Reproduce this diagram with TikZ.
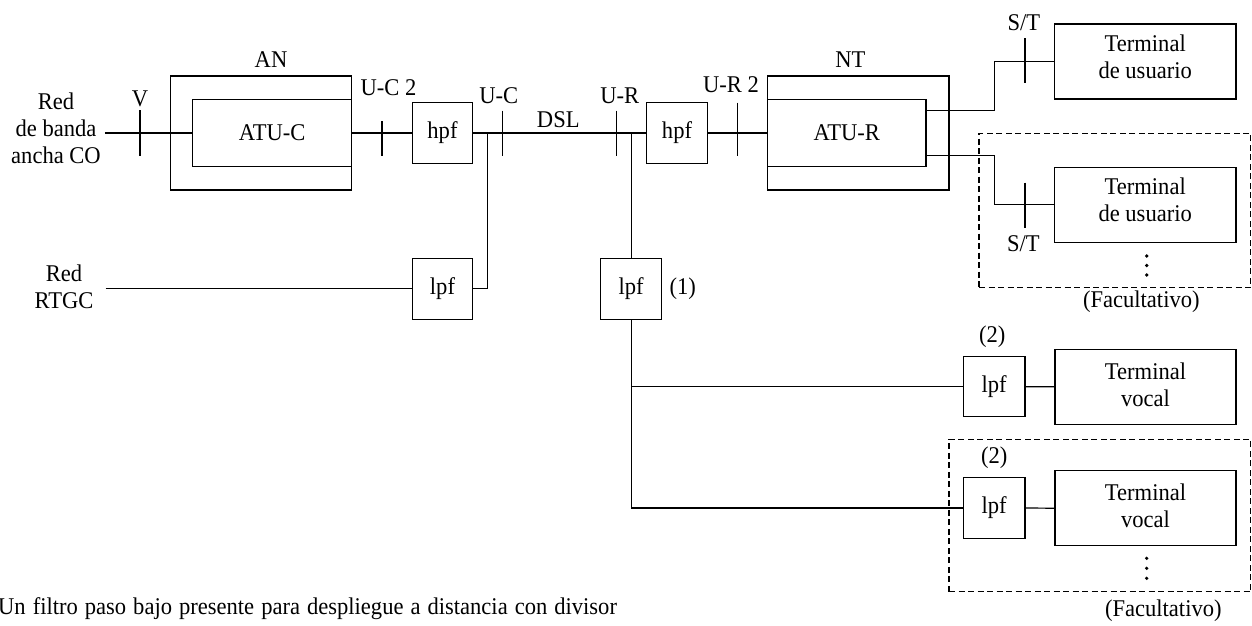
\documentclass[tikz,border=0pt]{standalone}
\usepackage{fontspec}
\setmainfont{Liberation Serif}[FakeStretch=0.94]
\usetikzlibrary{calc}
\newcommand{\mydep}[1]{\rule[-#1pt]{0pt}{0pt}}
\begin{document}
\begin{tikzpicture}[x=1pt,y=-1pt,
  every node/.style={font=\fontsize{24}{27.2}\selectfont, inner sep=0pt},
  ln/.style={line width=1.2pt},
  box/.style={draw, line width=1.2pt, inner sep=0pt, align=center},
  optbox/.style={draw, line width=1.1pt, dash pattern=on 6pt off 3.5pt, inner sep=0pt},
  lab/.style={anchor=base}]
\useasboundingbox (0,0) rectangle (1252,625);

% optional (dashed) regions
\node[optbox, minimum width=271.8pt, minimum height=154pt] (opt1) at (1114.9,210.3) {};
\node[optbox, minimum width=301.8pt, minimum height=152.4pt] (opt2) at (1099.9,515.5) {};

% boxes
\node[box, minimum width=181pt, minimum height=114pt] (an) at (261.2,133) {};
\node[box, minimum width=159pt, minimum height=67.4pt] (atuc) at (272.2,133) {ATU-C};
\node[box, minimum width=60.4pt, minimum height=60.6pt] (hpfc) at (442.5,133) {hpf};
\node[box, minimum width=60.6pt, minimum height=60.6pt] (hpfr) at (677,133) {hpf};
\node[box, minimum width=181.3pt, minimum height=114pt] (nt) at (858.3,133) {};
\node[box, minimum width=158.3pt, minimum height=67.4pt] (atur) at (846.8,133) {ATU-R};
\node[box, minimum width=181.7pt, minimum height=75pt] (tu1) at (1145.2,61.5) {Terminal\\de usuario\mydep{9.5}};
\node[box, minimum width=181.7pt, minimum height=75pt] (tu2) at (1145.2,204.8) {Terminal\\de usuario\mydep{9.5}};
\node[box, minimum width=60.4pt, minimum height=61pt] (lpfc) at (442.5,288.8) {lpf};
\node[box, minimum width=61pt, minimum height=61pt] (lpfr) at (631.2,288.8) {lpf};
\node[box, minimum width=61.7pt, minimum height=60pt] (lpfv1) at (994.2,386.7) {lpf};
\node[box, minimum width=61.7pt, minimum height=60.6pt] (lpfv2) at (994.2,508) {lpf};
\node[box, minimum width=181pt, minimum height=75pt] (tv1) at (1145.5,386.8) {Terminal\\vocal\mydep{5}};
\node[box, minimum width=181pt, minimum height=75pt] (tv2) at (1145.5,508.2) {Terminal\\vocal\mydep{5}};

% network texts
\node[align=center] (redco) at (56,128) {Red\\de banda\\ancha CO};
\node[align=center] (rtgc) at (64,286.5) {Red\\RTGC};

% labels
\node[lab] (lAN) at (271,67) {AN};
\node[lab] (lNT) at (850.3,67.7) {NT};
\node[lab] (lV) at (140,106.7) {V};
\node[lab] (lUC2) at (388.5,95) {U-C 2};
\node[lab] (lUC) at (498.7,103.3) {U-C};
\node[lab] (lDSL) at (558.3,127.3) {DSL};
\node[lab] (lUR) at (619.7,103.3) {U-R};
\node[lab] (lUR2) at (731,92.3) {U-R 2};
\node[lab] (lST1) at (1023.8,30.3) {S/T};
\node[lab] (lST2) at (1023.3,251) {S/T};
\node[lab] (l1) at (682.7,294) {(1)};
\node[lab] (l2a) at (992.3,342) {(2)};
\node[lab] (l2b) at (994.3,463) {(2)};
\node[lab] (fac1) at (1141.3,307) {(Facultativo)};
\node[lab] (fac2) at (1163.3,616) {(Facultativo)};
\node[anchor=base west] (note) at (-2,614.3) {\spaceskip=7pt Un filtro paso bajo presente para despliegue a distancia con divisor};

% main line
\coordinate (coIn) at ($(redco.east |- atuc.west)+(4,0)$);
\draw[ln] (coIn) -- (atuc.west);
\draw[ln] (atuc.east) -- (hpfc.west);
\draw[ln] (hpfc.east) -- (hpfr.west);
\draw[ln] (hpfr.east) -- (atur.west);

% PSTN side
\coordinate (rtIn) at ($(rtgc.east |- lpfc.west)+(12,0)$);
\draw[ln] (rtIn) -- (lpfc.west);
\coordinate (jc) at (487.7,133);
\draw[ln] (jc) |- (lpfc.east);

% remote splitter side
\coordinate (jr) at (lpfr.north |- hpfr.west);
\draw[ln] (jr) -- (lpfr.north);
\coordinate (jb) at (lpfr.south |- lpfv2.west);
\draw[ln] (lpfr.south) -- (jb) -- (lpfv2.west);
\draw[ln] (lpfr.south |- lpfv1.west) -- (lpfv1.west);
\draw[ln] (lpfv1.east) -- (tv1.west);
\draw[ln] (lpfv2.east) -- (tv2.west);

% ATU-R outputs
\coordinate (o1) at ($(atur.north east)!0.17!(atur.south east)$);
\coordinate (o2) at ($(atur.north east)!0.83!(atur.south east)$);
\draw[ln] (o1) -- ++(68.3,0) |- (tu1.west);
\draw[ln] (o2) -- ++(68.3,0) |- (tu2.west);

% reference point ticks
\draw[ln] (140,110) -- (140,156);
\draw[ln] (382,121) -- (382,156);
\draw[ln] (502.7,110.7) -- (502.7,156);
\draw[ln] (616.7,110.7) -- (616.7,156);
\draw[ln] (737.7,102.7) -- (737.7,156);
\draw[ln] (1025,38.3) -- (1025,83.3);
\draw[ln] (1025,182.7) -- (1025,227.7);

% continuation dots
\foreach \yy in {256,265.5,275} \fill (1146.7,\yy) circle (1.8pt);
\foreach \yy in {558.3,568.3,578.3} \fill (1146.7,\yy) circle (1.8pt);
\end{tikzpicture}
\end{document}
